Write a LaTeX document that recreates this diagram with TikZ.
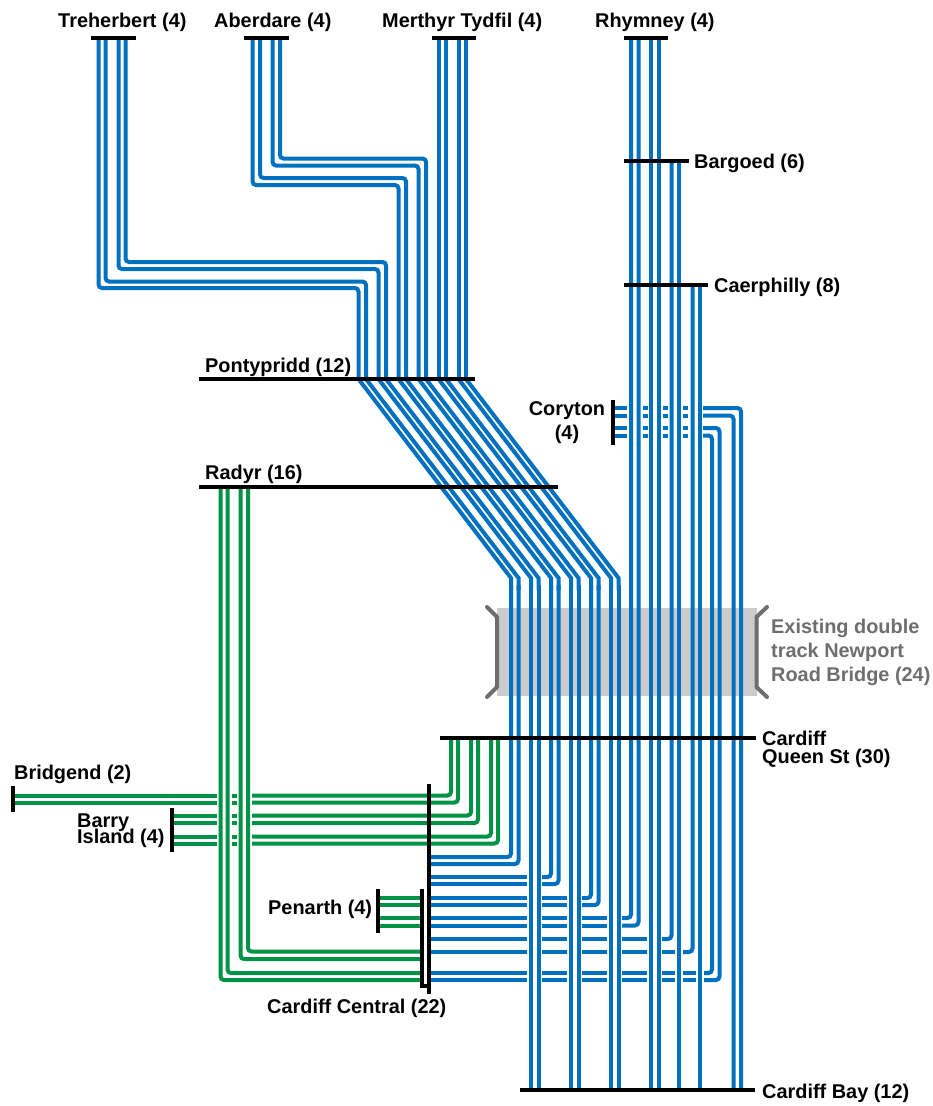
\documentclass[tikz,border=0pt]{standalone}
\usepackage{fontspec}
\setmainfont{Liberation Sans}
\definecolor{trackblue}{RGB}{0,112,192}
\definecolor{trackgreen}{RGB}{0,146,69}
\definecolor{bridgegrey}{RGB}{204,204,204}
\definecolor{bracketgrey}{RGB}{109,110,112}
\tikzset{
  bluerun/.style={draw=trackblue,line width=4pt},
  greenrun/.style={draw=trackgreen,line width=4pt},
  bluetrack/.style={bluerun,rounded corners=3.5pt},
  greentrack/.style={greenrun,rounded corners=3.5pt},
  stationbar/.style={draw=black,line width=4pt},
  bracket/.style={draw=bracketgrey,line width=4pt,line join=round,line cap=round},
  lab/.style={inner sep=0pt,font=\bfseries\fontsize{19.9}{19.9}\selectfont},
  greylab/.style={lab,text=bracketgrey},
}
\begin{document}
\begin{tikzpicture}[x=1pt,y=-1pt]
\useasboundingbox (0,0) rectangle (933,1106);
% bridge
\fill[bridgegrey] (497,607.5) rectangle (757,696);
\draw[bracket] (487,607) -- (497,617) -- (497,687) -- (487,697);
\draw[bracket] (767,607) -- (756.5,617) -- (756.5,687) -- (767,697);
% upper branches, blue
\draw[bluetrack] (98.5,37) -- (98.5,288) -- (358.5,288) -- (358.5,379);
\draw[bluetrack] (105.5,37) -- (105.5,281.5) -- (366,281.5) -- (366,379);
\draw[bluetrack] (118.5,37) -- (118.5,269) -- (378.5,269) -- (378.5,379);
\draw[bluetrack] (125.5,37) -- (125.5,262) -- (386,262) -- (386,379);
\draw[bluetrack] (252.5,37) -- (252.5,185) -- (398.5,185) -- (398.5,379);
\draw[bluetrack] (260,37) -- (260,178) -- (406,178) -- (406,379);
\draw[bluetrack] (272.5,37) -- (272.5,165.5) -- (418.5,165.5) -- (418.5,379);
\draw[bluetrack] (280,37) -- (280,158.5) -- (426,158.5) -- (426,379);
\foreach \x in {438.5,446,458.5,466} \draw[bluetrack] (\x,37) -- (\x,379);
% diagonals
\foreach \a/\b in {358.5/511,366/518.5,378.5/531,386/538.5,398.5/551,406/558.5,418.5/571,426/578.5,438.5/591,446/598.5,458.5/611,466/618.5}
  \draw[bluerun] (\a,379) -- (\b,578) -- (\b,590);
% through lines to Cardiff Bay
\foreach \x in {531,538.5,571,578.5,611,618.5} \draw[bluetrack] (\x,585) -- (\x,1090);
\foreach \x in {651,658.5} \draw[bluetrack] (\x,37) -- (\x,1090);
\draw[bluetrack] (679,160) -- (679,1090);
\draw[bluetrack] (699.5,284) -- (699.5,1090);
% lines turning to Cardiff Central
\draw[bluetrack] (511,585) -- (511,857) -- (430,857);
\draw[bluetrack] (518.5,585) -- (518.5,864) -- (430,864);
\draw[bluetrack] (551,585) -- (551,877) -- (542,877);
\draw[bluetrack] (558.5,585) -- (558.5,884) -- (542,884);
\draw[bluetrack] (591,585) -- (591,898) -- (582,898);
\draw[bluetrack] (598.5,585) -- (598.5,905) -- (582,905);
\draw[bluetrack] (631,37) -- (631,918) -- (622,918);
\draw[bluetrack] (638.5,37) -- (638.5,925.5) -- (622,925.5);
\draw[bluetrack] (671.5,160) -- (671.5,939) -- (662,939);
\draw[bluetrack] (692.5,284) -- (692.5,952) -- (683,952);
% Coryton lines
\draw[bluetrack] (703,408) -- (741,408) -- (741,1090);
\draw[bluetrack] (703,415.5) -- (733.5,415.5) -- (733.5,1090);
\draw[bluetrack] (703,428) -- (719.5,428) -- (719.5,980) -- (704,980);
\draw[bluetrack] (703,435.5) -- (712,435.5) -- (712,973) -- (704,973);
\foreach \y in {408,415.5,428,435.5}
  \foreach \a/\b in {612/627,642.5/647.5,662.5/667.5,682.5/688}
    \draw[bluerun] (\a,\y) -- (\b,\y);
% horizontal runs to Cardiff Central
\foreach \y in {877,884,898,905,918,925.5,939,952,973,980}
  \draw[bluerun] (430,\y) -- (527,\y);
\foreach \y in {898,905,918,925.5,939,952,973,980}
  \draw[bluerun] (542,\y) -- (567,\y);
\foreach \y in {918,925.5,939,952,973,980}
  \draw[bluerun] (582,\y) -- (607,\y);
\foreach \y in {939,952,973,980}
  \draw[bluerun] (622,\y) -- (647,\y);
\foreach \y in {952,973,980}
  \draw[bluerun] (662,\y) -- (675,\y);
\foreach \y in {973,980}
  \draw[bluerun] (683,\y) -- (696,\y);
% green: Radyr
\draw[greentrack] (220.5,486) -- (220.5,980) -- (421,980);
\draw[greentrack] (227.5,486) -- (227.5,973) -- (421,973);
\draw[greentrack] (240.5,486) -- (240.5,959) -- (421,959);
\draw[greentrack] (248,486) -- (248,951.5) -- (421,951.5);
% green: Penarth
\foreach \y in {898,905,918,925.5} \draw[greenrun] (378,\y) -- (421,\y);
% green: Bridgend and Barry Island
\draw[greenrun] (13,795.5) -- (217,795.5);
\draw[greenrun] (13,802.5) -- (217,802.5);
\foreach \y in {815.5,823,836.5,843.5} \draw[greenrun] (172,\y) -- (217,\y);
\foreach \y in {795.5,802.5,815.5,823,836.5,843.5} \draw[greenrun] (232,\y) -- (237,\y);
\draw[greentrack] (252,795.5) -- (451,795.5) -- (451,738);
\draw[greentrack] (252,802.5) -- (458,802.5) -- (458,738);
\draw[greentrack] (252,815.5) -- (471,815.5) -- (471,738);
\draw[greentrack] (252,823) -- (478,823) -- (478,738);
\draw[greentrack] (252,836.5) -- (491,836.5) -- (491,738);
\draw[greentrack] (252,843.5) -- (498,843.5) -- (498,738);
% station bars
\draw[stationbar] (91,37.5) -- (135.5,37.5);
\draw[stationbar] (244,37.5) -- (288.5,37.5);
\draw[stationbar] (432,37.5) -- (476,37.5);
\draw[stationbar] (624,37.5) -- (668,37.5);
\draw[stationbar] (624,160.5) -- (689,160.5);
\draw[stationbar] (624,284.5) -- (708,284.5);
\draw[stationbar] (199,379) -- (475,379);
\draw[stationbar] (199,486.5) -- (558,486.5);
\draw[stationbar] (612.5,400) -- (612.5,445);
\draw[stationbar] (440,738) -- (756,738);
\draw[stationbar] (13,786) -- (13,812);
\draw[stationbar] (172,808) -- (172,852);
\draw[stationbar] (378,889) -- (378,933);
\draw[stationbar] (428.5,784) -- (428.5,994);
\draw[stationbar] (421.5,889) -- (421.5,986) -- (428.5,986);
\draw[stationbar] (520,1090) -- (755,1090);
% labels
\node[lab,anchor=base west] (treherbert) at (58,27) {Treherbert (4)};
\node[lab,anchor=base west] (aberdare) at (214,27) {Aberdare (4)};
\node[lab,anchor=base west] (merthyr) at (382,27) {Merthyr Tydfil (4)};
\node[lab,anchor=base west] (rhymney) at (595,27) {Rhymney (4)};
\node[lab,anchor=base west] (bargoed) at (694,168) {Bargoed (6)};
\node[lab,anchor=base west] (caerphilly) at (714,292) {Caerphilly (8)};
\node[lab,anchor=base west] (pontypridd) at (205,372) {Pontypridd (12)};
\node[lab,anchor=base west] (radyr) at (205,479) {Radyr (16)};
\node[lab,anchor=base] (coryton1) at (567,415) {Coryton};
\node[lab,anchor=base] (coryton2) at (567,439) {(4)};
\node[greylab,anchor=base west] (bridge1) at (771,633) {Existing double};
\node[greylab,anchor=base west] (bridge2) at (771,657) {track Newport};
\node[greylab,anchor=base west] (bridge3) at (771,681) {Road Bridge (24)};
\node[lab,anchor=base west] (queen1) at (762,745) {Cardiff};
\node[lab,anchor=base west] (queen2) at (762,763) {Queen St (30)};
\node[lab,anchor=base west] (bridgend) at (14,779.5) {Bridgend (2)};
\node[lab,anchor=base west] (barry1) at (77,827) {Barry};
\node[lab,anchor=base west] (barry2) at (77,843) {Island (4)};
\node[lab,anchor=base west] (penarth) at (268,914) {Penarth (4)};
\node[lab,anchor=base west] (central) at (267,1013) {Cardiff Central (22)};
\node[lab,anchor=base west] (bay) at (762,1098) {Cardiff Bay (12)};
\end{tikzpicture}
\end{document}
